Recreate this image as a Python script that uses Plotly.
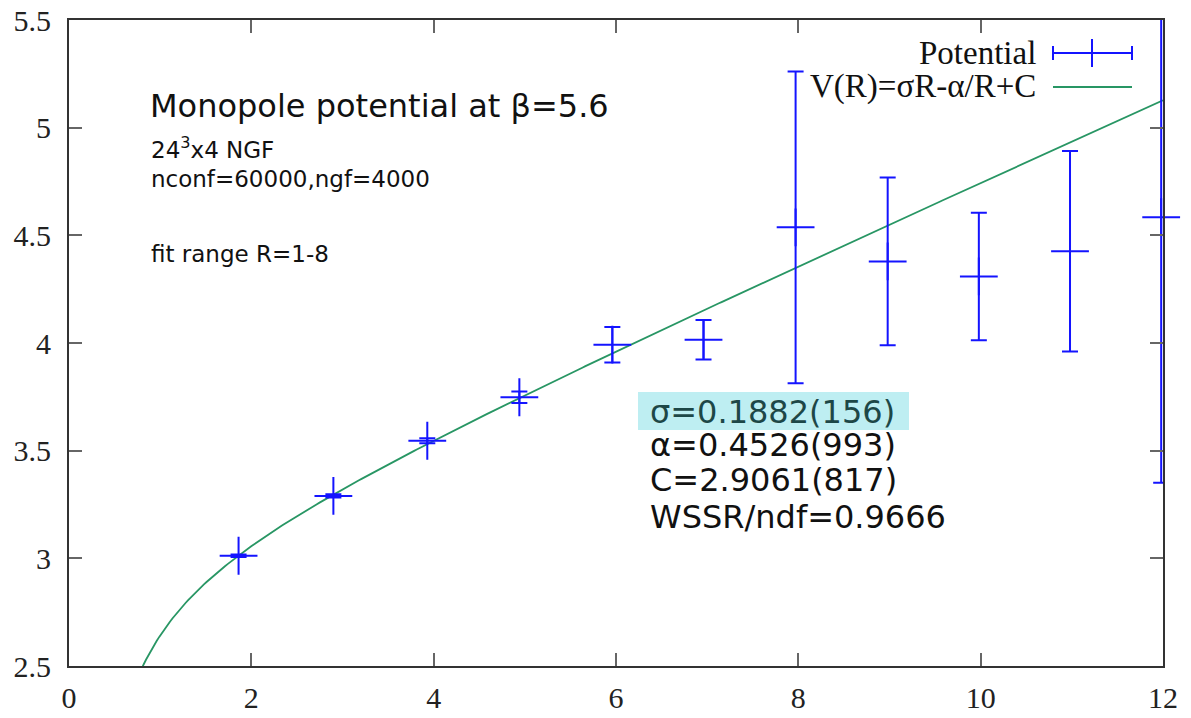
import numpy as np
import plotly.graph_objects as go

# ---- data ----
R = [1.86, 2.90, 3.93, 4.94, 5.96, 6.96, 7.97, 8.98, 9.98, 10.98, 11.98]
V = [3.012, 3.290, 3.546, 3.748, 3.992, 4.015, 4.537, 4.379, 4.309, 4.426, 4.584]
V_err = [0.006, 0.008, 0.012, 0.027, 0.082, 0.092, 0.724, 0.390, 0.296, 0.466, 1.233]

sigma, alpha, C = 0.1882, 0.4526, 2.9061
x_ticks = [0, 2, 4, 6, 8, 10, 12]
y_ticks = [2.5, 3, 3.5, 4, 4.5, 5, 5.5]
y_ticklabels = ["2.5", "3", "3.5", "4", "4.5", "5", "5.5"]

W, H = 1191, 718
ML, MR, MT, MB = 69, 28, 20, 52
PW, PH = W - ML - MR, H - MT - MB


def px(x):
    return (x - ML) / PW


def py(y):
    return (H - MB - y) / PH


BLUE = "rgb(20,20,255)"
GREEN = "rgb(40,150,100)"

fig = go.Figure()

Rfit = np.linspace(0.5, 12, 400)
Vfit = sigma * Rfit - alpha / Rfit + C
fig.add_trace(go.Scatter(x=Rfit, y=Vfit, mode="lines",
                         line=dict(color=GREEN, width=1.8), showlegend=False,
                         hoverinfo="skip"))

fig.add_trace(go.Scatter(
    x=R, y=V, mode="markers",
    marker=dict(symbol="cross-thin", size=27, line=dict(color=BLUE, width=2), color=BLUE),
    error_y=dict(type="data", array=V_err, visible=True, color=BLUE, thickness=2, width=8),
    showlegend=False, cliponaxis=False))

axis_common = dict(showline=True, linecolor="#333333", linewidth=2, mirror="ticks",
                   ticks="inside", ticklen=13, tickwidth=2, tickcolor="#666666",
                   showgrid=False, zeroline=False, automargin=False,
                   tickfont=dict(family="Liberation Serif", size=30, color="#222222"))

fig.update_xaxes(range=[0, 12], tickvals=x_ticks, ticktext=[str(t) for t in x_ticks],
                 ticklabelstandoff=4, **axis_common)
fig.update_yaxes(range=[2.5, 5.5], tickvals=y_ticks, ticktext=y_ticklabels,
                 ticklabelstandoff=10, **axis_common)

shapes = []
# legend samples
ly1, ly2 = 53, 87
shapes.append(dict(type="line", xref="paper", yref="paper", x0=px(1053), x1=px(1132), y0=py(ly1), y1=py(ly1),
                   line=dict(color=BLUE, width=2)))
for xx in (1053, 1132):
    shapes.append(dict(type="line", xref="paper", yref="paper", x0=px(xx), x1=px(xx), y0=py(ly1 - 7), y1=py(ly1 + 7),
                       line=dict(color=BLUE, width=2)))
shapes.append(dict(type="line", xref="paper", yref="paper", x0=px(1092), x1=px(1092), y0=py(ly1 - 14), y1=py(ly1 + 14),
                   line=dict(color=BLUE, width=2)))
shapes.append(dict(type="line", xref="paper", yref="paper", x0=px(1053), x1=px(1132), y0=py(ly2), y1=py(ly2),
                   line=dict(color=GREEN, width=2)))
# highlight box
shapes.append(dict(type="rect", xref="paper", yref="paper", x0=px(638), x1=px(909), y0=py(430), y1=py(392),
                   fillcolor="rgb(190,238,242)", line=dict(width=0), layer="below"))

annotations = []


def ann(text, x, y, size, family="DejaVu Sans", color="#111111", xanchor="left"):
    annotations.append(dict(text=text, x=px(x), y=py(y), xref="paper", yref="paper",
                            xanchor=xanchor, yanchor="middle", showarrow=False,
                            font=dict(family=family, size=size, color=color)))


ann("Potential", 1038, ly1, 33, family="Liberation Serif", xanchor="right")
ann("V(R)=σR-α/R+C", 1038, ly2, 33, family="Liberation Serif", xanchor="right")

ann("Monopole potential at β=5.6", 148, 106, 32)
ann("24<sup>3</sup>x4 NGF", 149, 148, 23)
ann("nconf=60000,ngf=4000", 149, 179, 23)
ann("fit range R=1-8", 149, 254, 23)

ann("σ=0.1882(156)", 648, 412, 32, color="#1d4747")
ann("α=0.4526(993)", 648, 445, 32)
ann("C=2.9061(817)", 648, 480, 32)
ann("WSSR/ndf=0.9666", 648, 517, 32)

fig.update_layout(width=W, height=H, margin=dict(l=ML, r=MR, t=MT, b=MB, autoexpand=False),
                  plot_bgcolor="white", paper_bgcolor="white",
                  shapes=shapes, annotations=annotations, showlegend=False)

fig.write_html("out.html")
